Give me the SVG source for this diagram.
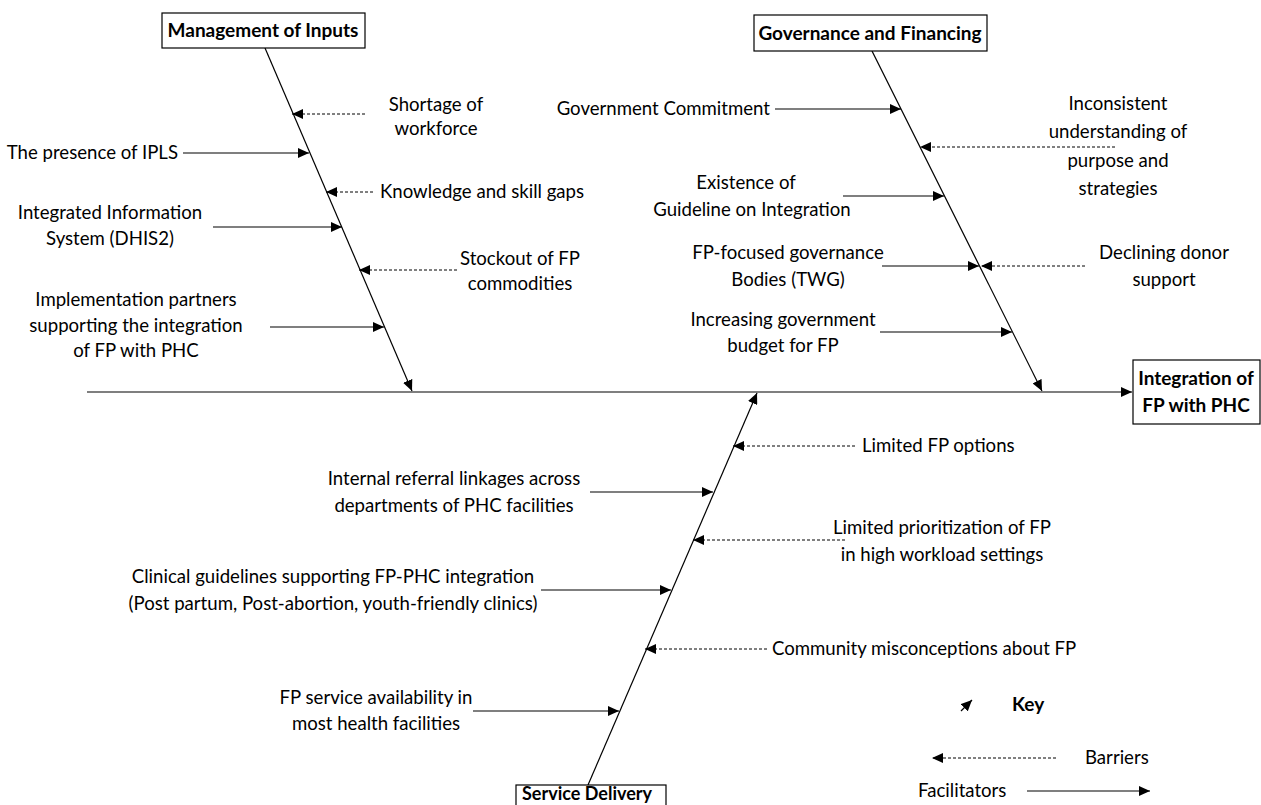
<svg xmlns="http://www.w3.org/2000/svg" width="1261" height="805" viewBox="0 0 1261 805">
<style>
text{font-family:Lato,"Liberation Sans",sans-serif;font-size:18.6px;fill:#000}
.b{font-weight:bold;font-size:19px}
.m{text-anchor:middle}
.e{text-anchor:end}
.box{fill:#fff;stroke:#000;stroke-width:1.2}
.f{stroke:#000;stroke-width:1.2;fill:none;marker-end:url(#ah)}
.d{stroke:#000;stroke-width:1;stroke-dasharray:3 2;fill:none;marker-end:url(#ah)}
</style>
<defs>
<marker id="ah" markerUnits="userSpaceOnUse" markerWidth="12" markerHeight="10" refX="11" refY="5" orient="auto">
<path d="M0,0 L11,5 L0,10 Z" fill="#000"/>
</marker>
</defs>
<g id="connectors">
<line class="f" x1="87" y1="392" x2="1132" y2="392"/>
<line class="f" x1="265" y1="48" x2="412" y2="391"/>
<line class="f" x1="872" y1="51" x2="1042" y2="391"/>
<line class="f" x1="588" y1="785" x2="757" y2="393"/>
<line class="d" x1="365" y1="114" x2="292" y2="114"/>
<line class="f" x1="183" y1="153" x2="309" y2="153"/>
<line class="d" x1="373" y1="192" x2="326" y2="192"/>
<line class="f" x1="213" y1="227" x2="342" y2="227"/>
<line class="d" x1="457" y1="270" x2="359" y2="270"/>
<line class="f" x1="270" y1="327" x2="384" y2="327"/>
<line class="f" x1="775" y1="109" x2="901" y2="109"/>
<line class="d" x1="1115" y1="147" x2="920" y2="147"/>
<line class="f" x1="843" y1="196" x2="944" y2="196"/>
<line class="f" x1="882" y1="266" x2="979" y2="266"/>
<line class="d" x1="1085" y1="266" x2="981" y2="266"/>
<line class="f" x1="880" y1="332" x2="1012" y2="332"/>
<line class="d" x1="855" y1="446" x2="733" y2="446"/>
<line class="f" x1="590" y1="492" x2="713" y2="492"/>
<line class="d" x1="845" y1="540" x2="693" y2="540"/>
<line class="f" x1="541" y1="590" x2="671" y2="590"/>
<line class="d" x1="767" y1="649" x2="645" y2="649"/>
<line class="f" x1="473" y1="711" x2="619" y2="711"/>
<line class="f" x1="961" y1="711" x2="972" y2="700"/>
<line class="d" x1="1056" y1="758" x2="932" y2="758"/>
<line class="f" x1="1027" y1="791" x2="1150" y2="791"/>
</g>
<g id="management">
<rect class="box" x="162" y="13" width="203" height="35"/>
<text class="b m" x="263" y="37">Management of Inputs</text>
</g>
<g id="governance">
<rect class="box" x="754" y="15" width="233" height="36"/>
<text class="b m" x="870" y="40">Governance and Financing</text>
</g>
<g id="outcome">
<rect class="box" x="1133" y="360" width="127" height="64"/>
<text class="b m" x="1196" y="385">Integration of</text>
<text class="b m" x="1196" y="412">FP with PHC</text>
</g>
<g id="service">
<rect class="box" x="516" y="785" width="150" height="30"/>
<text class="b" x="522" y="800" style="font-size:18px">Service Delivery</text>
</g>
<g id="labels">
<text class="m" x="436" y="111">Shortage of</text>
<text class="m" x="436" y="135">workforce</text>
<text class="e" x="178" y="159">The presence of IPLS</text>
<text x="380" y="198">Knowledge and skill gaps</text>
<text class="m" x="110" y="219">Integrated Information</text>
<text class="m" x="110" y="245">System (DHIS2)</text>
<text class="m" x="520" y="265">Stockout of FP</text>
<text class="m" x="520" y="290">commodities</text>
<text class="m" x="136" y="306">Implementation partners</text>
<text class="m" x="136" y="332">supporting the integration</text>
<text class="m" x="136" y="357">of FP with PHC</text>
<text class="e" x="770" y="115">Government Commitment</text>
<text class="m" x="1118" y="110">Inconsistent</text>
<text class="m" x="1118" y="138">understanding of</text>
<text class="m" x="1118" y="167">purpose and</text>
<text class="m" x="1118" y="195">strategies</text>
<text class="m" x="746" y="189">Existence of</text>
<text class="m" x="752" y="216">Guideline on Integration</text>
<text class="m" x="788" y="259">FP-focused governance</text>
<text class="m" x="788" y="286">Bodies (TWG)</text>
<text class="m" x="1164" y="259">Declining donor</text>
<text class="m" x="1164" y="286">support</text>
<text class="m" x="783" y="326">Increasing government</text>
<text class="m" x="783" y="352">budget for FP</text>
<text x="862" y="452">Limited FP options</text>
<text class="m" x="454" y="485">Internal referral linkages across</text>
<text class="m" x="454" y="512">departments of PHC facilities</text>
<text class="m" x="942" y="534">Limited prioritization of FP</text>
<text class="m" x="942" y="561">in high workload settings</text>
<text class="m" x="333" y="583">Clinical guidelines supporting FP-PHC integration</text>
<text class="m" x="333" y="610">(Post partum, Post-abortion, youth-friendly clinics)</text>
<text x="772" y="655">Community misconceptions about FP</text>
<text class="m" x="376" y="704">FP service availability in</text>
<text class="m" x="376" y="730">most health facilities</text>
</g>
<g id="key">
<text class="b" x="1012" y="711">Key</text>
<text x="1085" y="764">Barriers</text>
<text x="918" y="797">Facilitators</text>
</g>
</svg>
